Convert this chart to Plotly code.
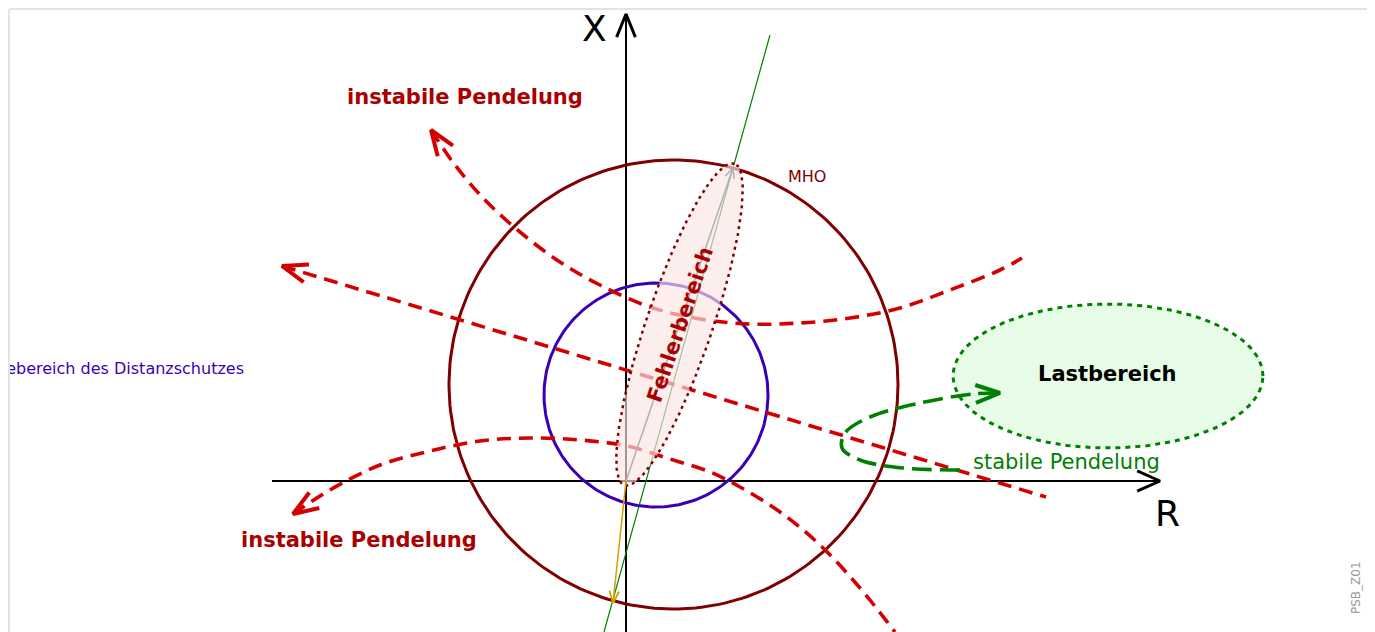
import numpy as np
import plotly.graph_objects as go

# R-X Impedanzebene, Ursprung im Achsenkreuz (1 Einheit ~ 1 px)
R_RANGE = [-617, 746]
X_RANGE = [-151, 472]

axis_r = [-354, 534]
axis_x = [-151, 467]

mho_center = [47.5, 96.5]
mho_radius = 224.5
anreg_center = [30, 86]
anreg_radius = 112

fehler_tip = [107, 313]          # Ende des Fehlerbereichs (Leitungsimpedanz)
fehler_halbachsen = [170, 33]
gelb_tip = [-13, -122]

last_center = [482, 105]
last_halbachsen = [155, 72]

leitung_r = [144, -22]
leitung_x = [446, -151]

# instabile Pendelungen (Startpunkt = Pfeilspitze)
oben_r = [-195, -171, -141, -106, -66, -26, 24, 74, 124, 174, 224, 274, 324, 374, 396]
oben_x = [351, 316, 281, 249, 219, 196, 174, 162, 157, 158, 163, 173, 191, 211, 223]
mitte_r = [-344, 420]
mitte_x = [215, -16]
unten_r = [-333, -296, -246, -196, -146, -96, -46, 1, 44, 84, 114, 154, 194, 234, 269]
unten_x = [-33, -9, 16, 30, 40, 43, 41, 35, 22, 9, -6, -31, -64, -107, -151]

# stabile Pendelung (Endpunkt = Pfeilspitze)
stabil_r = [334, 277, 234, 216, 219, 244, 294, 347, 374]
stabil_x = [11, 13, 21, 33, 48, 64, 78, 87, 88]

RED = '#d40000'
DARKRED = '#800000'
TXTRED = '#aa0000'
BLUE = '#3c00b4'
GREEN = '#008000'
FONT = 'DejaVu Sans'


def ellipse(center, a, b, angle=0.0, n=240):
    t = np.linspace(0, 2 * np.pi, n)
    ca, sa = np.cos(angle), np.sin(angle)
    x = center[0] + a * np.cos(t) * ca - b * np.sin(t) * sa
    y = center[1] + a * np.cos(t) * sa + b * np.sin(t) * ca
    return x, y


def chevron(tip, toward, length, half_deg):
    d = np.array(toward, float) - np.array(tip, float)
    d /= np.linalg.norm(d)
    xs, ys = [], []
    for s in (1, 0, -1):
        if s == 0:
            xs.append(tip[0]); ys.append(tip[1]); continue
        h = np.radians(half_deg) * s
        rx = d[0] * np.cos(h) - d[1] * np.sin(h)
        ry = d[0] * np.sin(h) + d[1] * np.cos(h)
        xs.append(tip[0] + length * rx); ys.append(tip[1] + length * ry)
    return xs, ys


def line(fig, x, y, color, width, dash=None, shape='linear'):
    fig.add_trace(go.Scatter(x=x, y=y, mode='lines', hoverinfo='skip',
                             line=dict(color=color, width=width, dash=dash, shape=shape)))


fig = go.Figure()

# Lastbereich
lx, ly = ellipse(last_center, *last_halbachsen)
fig.add_trace(go.Scatter(x=lx, y=ly, mode='lines', fill='toself', fillcolor='#e6fce6',
                         line=dict(color=GREEN, width=3, dash='5px,5px'), hoverinfo='skip'))

# Achsen
line(fig, axis_r, [0, 0], 'black', 2)
line(fig, [0, 0], axis_x, 'black', 2)
cx, cy = chevron([axis_r[1], 0], [0, 0], 25, 24)
line(fig, cx, cy, 'black', 3)
cx, cy = chevron([0, axis_x[1]], [0, 0], 25, 22)
line(fig, cx, cy, 'black', 3)

# Leitungsgerade
line(fig, leitung_r, leitung_x, GREEN, 1.2)

# MHO und Anregekreis
mx, my = ellipse(mho_center, mho_radius, mho_radius)
line(fig, mx, my, DARKRED, 3)
ax_, ay_ = ellipse(anreg_center, anreg_radius, anreg_radius)
line(fig, ax_, ay_, BLUE, 3)

# instabile Pendelungen
DASH = '14px,8px'
line(fig, oben_r, oben_x, RED, 3.6, DASH, 'spline')
cx, cy = chevron([oben_r[0], oben_x[0]], [oben_r[1], oben_x[1]], 27, 20)
line(fig, cx, cy, RED, 4)
line(fig, mitte_r, mitte_x, RED, 3.6, DASH)
cx, cy = chevron([mitte_r[0], mitte_x[0]], [mitte_r[1], mitte_x[1]], 27, 20)
line(fig, cx, cy, RED, 4)
line(fig, unten_r, unten_x, RED, 3.6, DASH, 'spline')
cx, cy = chevron([unten_r[0], unten_x[0]], [unten_r[1], unten_x[1]], 27, 20)
line(fig, cx, cy, RED, 4)

# Fehlerbereich
ang = np.arctan2(fehler_tip[1], fehler_tip[0])
fx, fy = ellipse([fehler_tip[0] / 2, fehler_tip[1] / 2], *fehler_halbachsen, angle=ang)
fig.add_trace(go.Scatter(x=fx, y=fy, mode='lines', fill='toself',
                         fillcolor='rgba(252,229,229,0.65)',
                         line=dict(color=DARKRED, width=2.5, dash='3px,4px'), hoverinfo='skip'))

# Impedanzzeiger
line(fig, [0, fehler_tip[0]], [0, fehler_tip[1]], '#b0b0b0', 1.5)
cx, cy = chevron(fehler_tip, [0, 0], 11, 25)
line(fig, cx, cy, '#b0b0b0', 1.5)
line(fig, [0, gelb_tip[0]], [0, gelb_tip[1]], '#d4a000', 1.5)
cx, cy = chevron(gelb_tip, [0, 0], 13, 22)
line(fig, cx, cy, '#d4a000', 1.8)

# stabile Pendelung
line(fig, stabil_r, stabil_x, GREEN, 3.6, '20px,8px', 'spline')
cx, cy = chevron([stabil_r[-1], stabil_x[-1]], [stabil_r[-2], stabil_x[-2]], 26, 20)
line(fig, cx, cy, GREEN, 4)

# Beschriftung, links am Rahmen abgeschnitten (wie im Original)
fig.add_trace(go.Scatter(x=[-382], y=[111], mode='text', text=['Anregebereich des Distanzschutzes'],
                         textposition='middle left', cliponaxis=True, hoverinfo='skip',
                         textfont=dict(family=FONT, size=16, color=BLUE)))


def label(x, y, text, size, color, angle=0):
    fig.add_annotation(x=x, y=y, text=text, showarrow=False, textangle=angle,
                       font=dict(family=FONT, size=size, color=color))


label(-161, 384, '<b>instabile Pendelung</b>', 21, TXTRED)
label(-267, -59, '<b>instabile Pendelung</b>', 21, TXTRED)
label(440, 19, 'stabile Pendelung', 21, GREEN)
label(481, 107, '<b>Lastbereich</b>', 21, 'black')
label(54, 156, '<b>Fehlerbereich</b>', 21, TXTRED, -71)
label(181, 305, 'MHO', 16, DARKRED)
label(541, -32, 'R', 36, 'black')
label(-32, 453, 'X', 36, 'black')
label(730, -107, 'PSB_Z01', 12, '#999999', -90)

# Rahmen
for x0, y0, x1, y1 in [(0, -0.1, 0, 1), (0, 1, 1, 1), (1, -0.1, 1, 1)]:
    fig.add_shape(type='line', xref='paper', yref='paper', x0=x0, y0=y0, x1=x1, y1=y1,
                  line=dict(color='#e3e3e3', width=2))

# Seite hat 8 px Rand: Zeichenflaeche auf Seitenpixel 9..1372 / 9..632 legen
fig.update_layout(width=1375, height=632, margin=dict(l=1, r=11, t=1, b=8),
                  paper_bgcolor='white', plot_bgcolor='white', showlegend=False,
                  xaxis=dict(range=R_RANGE, visible=False),
                  yaxis=dict(range=X_RANGE, visible=False))

fig.write_html('out.html')
